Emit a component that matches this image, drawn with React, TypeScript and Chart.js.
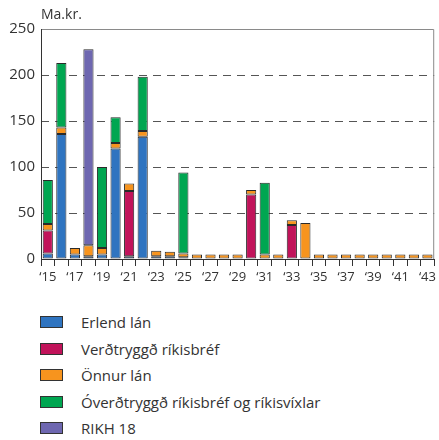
import React, { useEffect, useRef } from "react";
import { Chart, registerables } from "chart.js";

Chart.register(...registerables);

const years = [
  2015, 2016, 2017, 2018, 2019, 2020, 2021, 2022, 2023, 2024, 2025, 2026, 2027, 2028, 2029,
  2030, 2031, 2032, 2033, 2034, 2035, 2036, 2037, 2038, 2039, 2040, 2041, 2042, 2043,
];
const tickLabels = years.map((y) => "\u2018" + String(y).slice(2));

const erlendLan = [6, 136, 5, 3, 5, 120, 3, 133, 3, 3, 2, null, null, null, null, null, null, null, null, null, null, null, null, null, null, null, null, null, null];
const verdtryggd = [25, null, null, null, null, null, 71, null, null, null, null, null, null, null, null, 70, null, null, 37, null, null, null, null, null, null, null, null, null, null];
const onnurLan = [7, 7, 7, 12, 7, 6, 8, 6, 6, 5, 4, 5, 5, 5, 5, 5, 5, 5, 5, 39, 5, 5, 5, 5, 5, 5, 5, 5, 5];
const overdtryggd = [48, 70, null, null, 88, 28, null, 59, null, null, 88, null, null, null, null, null, 78, null, null, null, null, null, null, null, null, null, null, null, null];
const rikh18 = [null, null, null, 213, null, null, null, null, null, null, null, null, null, null, null, null, null, null, null, null, null, null, null, null, null, null, null, null, null];

const seriesNames = [
  "Erlend lán",
  "Verðtryggð ríkisbréf",
  "Önnur lán",
  "Óverðtryggð ríkisbréf og ríkisvíxlar",
  "RIKH 18",
];
const seriesColors = ["#2f74c0", "#c1135a", "#f7941e", "#00a651", "#6e67b0"];
const seriesData = [erlendLan, verdtryggd, onnurLan, overdtryggd, rikh18];

const FONT = "'Open Sans', 'DejaVu Sans', sans-serif";

export default function App() {
  const ref = useRef<HTMLCanvasElement | null>(null);

  useEffect(() => {
    if (!ref.current) return;
    const framePlugin = {
      id: "frame",
      afterDraw(chart: any) {
        const { ctx, chartArea } = chart;
        const { left, right, top, bottom } = chartArea;
        ctx.save();
        ctx.setLineDash([]);
        ctx.lineWidth = 1;
        ctx.strokeStyle = "#8a8a8a";
        ctx.beginPath();
        ctx.moveTo(left, top + 0.5);
        ctx.lineTo(right - 0.5, top + 0.5);
        ctx.lineTo(right - 0.5, bottom);
        ctx.stroke();
        ctx.strokeStyle = "#333";
        ctx.beginPath();
        ctx.moveTo(left + 0.5, top);
        ctx.lineTo(left + 0.5, bottom + 0.5);
        ctx.lineTo(right, bottom + 0.5);
        ctx.stroke();
        ctx.fillStyle = "#333";
        ctx.font = `14px ${FONT}`;
        ctx.textBaseline = "middle";
        ctx.textAlign = "left";
        ctx.fillText("Ma.kr.", left, 15);
        ctx.restore();
      },
    };

    const chart = new Chart(ref.current, {
      type: "bar",
      data: {
        labels: tickLabels,
        datasets: seriesData.map((d, i) => ({
          label: seriesNames[i],
          data: d as any,
          backgroundColor: seriesColors[i],
          borderColor: "#2a2a2a",
          borderWidth: 1,
          borderSkipped: false,
          barPercentage: 0.75,
          categoryPercentage: 1,
        })),
      },
      options: {
        animation: false,
        responsive: false,
        maintainAspectRatio: false,
        layout: { padding: { top: 29, right: 2, left: 0, bottom: 0 } },
        plugins: {
          legend: { display: false },
          tooltip: { enabled: false },
          title: { display: false },
        },
        scales: {
          x: {
            stacked: true,
            offset: true,
            grid: {
              offset: true,
              drawOnChartArea: false,
              drawTicks: true,
              tickLength: 7,
              tickColor: "#333",
              color: "#333",
            },
            border: { display: false },
            ticks: {
              autoSkip: false,
              maxRotation: 0,
              padding: 3,
              color: "#333",
              font: { family: FONT, size: 13 },
              callback: (_v: any, i: number) => (i % 2 === 0 ? tickLabels[i] : ""),
            },
            afterFit: (s: any) => {
              s.height = 26;
            },
          },
          y: {
            stacked: true,
            min: 0,
            max: 250,
            ticks: {
              stepSize: 50,
              padding: 6,
              color: "#333",
              font: { family: FONT, size: 15 },
            },
            grid: {
              drawTicks: false,
              lineWidth: 1,
              color: (c: any) =>
                c.tick && (c.tick.value === 0 || c.tick.value === 250) ? "rgba(0,0,0,0)" : "#555",
            },
            border: { display: false, dash: [8, 6] },
            afterFit: (s: any) => {
              s.width = 41;
            },
          },
        },
      },
      plugins: [framePlugin],
    } as any);
    return () => chart.destroy();
  }, []);

  const rowY = [322, 349, 375, 402, 428];

  return (
    <div style={{ position: "absolute", left: 0, top: 0, width: 439, height: 440, background: "#fff", fontFamily: FONT }}>
      <canvas ref={ref} width={439} height={285} style={{ position: "absolute", left: 0, top: 0, width: 439, height: 285 }} />
      {seriesNames.map((n, i) => (
        <div key={n}>
          <div
            style={{
              position: "absolute",
              left: 40,
              top: rowY[i] - 6,
              width: 21,
              height: 10,
              background: seriesColors[i],
              border: "1px solid #333",
            }}
          />
          <div
            style={{
              position: "absolute",
              left: 81,
              top: rowY[i] - 11,
              height: 22,
              lineHeight: "22px",
              fontSize: 15,
              color: "#333",
              whiteSpace: "nowrap",
            }}
          >
            {n}
          </div>
        </div>
      ))}
    </div>
  );
}
